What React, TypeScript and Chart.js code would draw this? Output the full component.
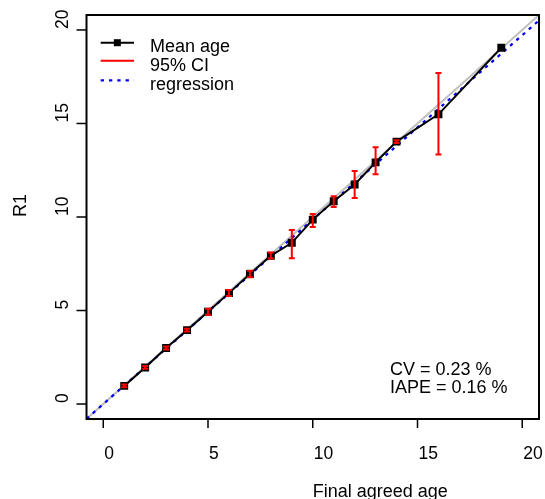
import React, { useEffect, useRef } from "react";
import { Chart, registerables } from "chart.js";

Chart.register(...registerables);

// ---- data ----
const finalAge = [1, 2, 3, 4, 5, 6, 7, 8, 9, 10, 11, 12, 13, 14, 16, 19];
const meanAge = [0.97, 1.95, 3.0, 3.95, 4.93, 5.93, 6.95, 7.93, 8.62, 9.86, 10.84, 11.74, 12.92, 14.03, 15.49, 19.05];
const ciLower: (number | null)[] = [0.9, 1.88, 2.92, 3.88, 4.77, 5.77, 6.78, 7.78, 7.8, 9.46, 10.54, 11.02, 12.29, 13.95, 13.34, null];
const ciUpper: (number | null)[] = [1.05, 2.03, 3.07, 4.03, 5.1, 6.1, 7.12, 8.1, 9.3, 10.16, 11.11, 12.46, 13.73, 14.1, 17.7, null];
const tickValues = [0, 5, 10, 15, 20];
const axisMin = -0.8;
const axisMax = 20.8;
const regIntercept = 0.0;
const regSlope = 0.986;
const legendLabels = ["Mean age", "95% CI", "regression"];
const statLines = ["CV = 0.23 %", "IAPE = 0.16 %"];
const xTitle = "Final agreed age";
const yTitle = "R1";

const FONT = '18px "Liberation Sans", Arial, sans-serif';
const TICK_FONT = '17.5px "Liberation Sans", Arial, sans-serif';

const rPlugin = {
  id: "rstyle",
  afterDatasetsDraw(chart: any) {
    const ctx = chart.ctx;
    const xs = chart.scales.x;
    const ys = chart.scales.y;
    ctx.save();
    ctx.strokeStyle = "#ff0000";
    ctx.lineWidth = 2;
    for (let i = 0; i < finalAge.length; i++) {
      const lo = ciLower[i];
      const hi = ciUpper[i];
      if (lo == null || hi == null) continue;
      const px = xs.getPixelForValue(finalAge[i]);
      const y1 = ys.getPixelForValue(lo);
      const y2 = ys.getPixelForValue(hi);
      ctx.beginPath();
      ctx.moveTo(px, y1);
      ctx.lineTo(px, y2);
      ctx.moveTo(px - 3, y1);
      ctx.lineTo(px + 3, y1);
      ctx.moveTo(px - 3, y2);
      ctx.lineTo(px + 3, y2);
      ctx.stroke();
    }
    ctx.restore();
  },
  afterDraw(chart: any) {
    const ctx = chart.ctx;
    const a = chart.chartArea;
    const xs = chart.scales.x;
    const ys = chart.scales.y;
    ctx.save();
    // box
    ctx.strokeStyle = "#000";
    ctx.lineWidth = 2;
    ctx.strokeRect(a.left, a.top, a.right - a.left, a.bottom - a.top);
    // ticks
    ctx.lineWidth = 1.5;
    ctx.fillStyle = "#000";
    ctx.font = TICK_FONT;
    ctx.textBaseline = "alphabetic";
    for (const v of tickValues) {
      const px = xs.getPixelForValue(v);
      ctx.beginPath();
      ctx.moveTo(px, a.bottom);
      ctx.lineTo(px, a.bottom + 9);
      ctx.stroke();
      ctx.textAlign = "left";
      ctx.fillText(String(v), px + 1, 458.5);
      const py = ys.getPixelForValue(v);
      ctx.beginPath();
      ctx.moveTo(a.left, py);
      ctx.lineTo(a.left - 10, py);
      ctx.stroke();
      ctx.save();
      ctx.translate(68, py - 1);
      ctx.rotate(-Math.PI / 2);
      ctx.textAlign = "left";
      ctx.fillText(String(v), 0, 0);
      ctx.restore();
    }
    // axis titles
    ctx.font = FONT;
    ctx.textAlign = "left";
    ctx.fillText(xTitle, (a.left + a.right) / 2, 496.5);
    ctx.save();
    ctx.translate(25.5, (a.top + a.bottom) / 2);
    ctx.rotate(-Math.PI / 2);
    ctx.fillText(yTitle, 0, 0);
    ctx.restore();

    // legend
    const lx1 = 100.7;
    const lx2 = 134;
    const lineYs = [42.7, 60.7, 80.3];
    const textYs = [52.3, 70.7, 89.5];
    ctx.strokeStyle = "#000";
    ctx.lineWidth = 2;
    ctx.beginPath();
    ctx.moveTo(lx1, lineYs[0]);
    ctx.lineTo(lx2, lineYs[0]);
    ctx.stroke();
    ctx.fillRect((lx1 + lx2) / 2 - 3.5, lineYs[0] - 3.5, 7, 7);
    ctx.strokeStyle = "#ff0000";
    ctx.beginPath();
    ctx.moveTo(lx1, lineYs[1]);
    ctx.lineTo(lx2, lineYs[1]);
    ctx.stroke();
    ctx.strokeStyle = "#0000ff";
    ctx.lineWidth = 2.2;
    ctx.setLineDash([3.3, 5]);
    ctx.beginPath();
    ctx.moveTo(lx1, lineYs[2]);
    ctx.lineTo(lx2, lineYs[2]);
    ctx.stroke();
    ctx.setLineDash([]);
    ctx.fillStyle = "#000";
    legendLabels.forEach((t, i) => ctx.fillText(t, 150, textYs[i]));

    // stats text
    ctx.fillText(statLines[0], 390, 375);
    ctx.fillText(statLines[1], 390, 393.3);
    ctx.restore();
  },
};

export default function App() {
  const ref = useRef<HTMLCanvasElement | null>(null);
  useEffect(() => {
    if (!ref.current) return;
    const identity = [
      { x: axisMin, y: axisMin },
      { x: axisMax, y: axisMax },
    ];
    const regression = [
      { x: axisMin, y: regIntercept + regSlope * axisMin },
      { x: axisMax, y: regIntercept + regSlope * axisMax },
    ];
    const means = finalAge.map((x, i) => ({ x, y: meanAge[i] }));
    const chart = new Chart(ref.current, {
      type: "scatter",
      data: {
        datasets: [
          {
            data: identity,
            showLine: true,
            borderColor: "#bebebe",
            borderWidth: 2,
            pointRadius: 0,
            order: 4,
          },
          {
            data: regression,
            showLine: true,
            borderColor: "#0000ff",
            borderWidth: 2.2,
            borderDash: [3.3, 5],
            pointRadius: 0,
            order: 3,
          },
          {
            data: means,
            showLine: true,
            borderColor: "#000",
            borderWidth: 2,
            pointRadius: 5.6,
            pointStyle: "rect",
            pointBackgroundColor: "#000",
            pointBorderColor: "#000",
            pointBorderWidth: 0,
            order: 2,
          },
        ] as any,
      },
      options: {
        animation: false,
        responsive: false,
        events: [],
        layout: { padding: { left: 86.5, top: 15, right: 6, bottom: 80 } },
        plugins: { legend: { display: false }, tooltip: { enabled: false } },
        scales: {
          x: { type: "linear", min: axisMin, max: axisMax, display: false },
          y: { type: "linear", min: axisMin, max: axisMax, display: false },
        },
      },
      plugins: [rPlugin],
    });
    return () => chart.destroy();
  }, []);
  return (
    <div style={{ position: "fixed", left: 0, top: 0, width: 545, height: 499, background: "#fff" }}>
      <canvas ref={ref} width={545} height={499} style={{ display: "block" }} />
    </div>
  );
}
